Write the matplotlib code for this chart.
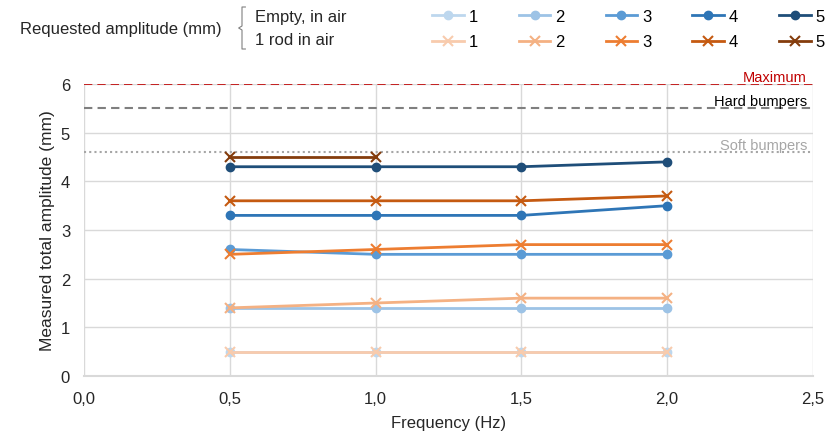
import matplotlib.pyplot as plt
from matplotlib.lines import Line2D

plt.rcParams['font.family'] = ['Liberation Sans', 'DejaVu Sans']

freq = [0.5, 1.0, 1.5, 2.0]
labels = ['1', '2', '3', '4', '5']

# Empty, in air
empty = [
    [0.5, 0.5, 0.5, 0.5],
    [1.4, 1.4, 1.4, 1.4],
    [2.6, 2.5, 2.5, 2.5],
    [3.3, 3.3, 3.3, 3.5],
    [4.3, 4.3, 4.3, 4.4],
]
# 1 rod in air
rod = [
    [0.5, 0.5, 0.5, 0.5],
    [1.4, 1.5, 1.6, 1.6],
    [2.5, 2.6, 2.7, 2.7],
    [3.6, 3.6, 3.6, 3.7],
    [4.5, 4.5],
]
blues = ['#bdd7ee', '#9dc3e6', '#5b9bd5', '#2e75b6', '#1f4e79']
oranges = ['#f8cbad', '#f4b183', '#ed7d31', '#c55a11', '#843c0c']

limits = [6.0, 5.5, 4.6]
limit_names = ['Maximum', 'Hard bumpers', 'Soft bumpers']

txt = '#262626'
fig = plt.figure(figsize=(8.38, 4.35), dpi=100)
ax = fig.add_axes([0.1002, 0.1333, 0.8698, 0.6713])

ax.axhline(limits[0], color='#c00000', ls=(0, (5, 3)), lw=1.2, zorder=2)
ax.axhline(limits[1], color='#7f7f7f', ls=(0, (4, 2.5)), lw=1.5, zorder=2)
ax.axhline(limits[2], color='#a6a6a6', ls=(0, (1, 1.5)), lw=1.5, zorder=2)
ax.text(2.48, limits[0] + 0.01, limit_names[0], color='#c00000', ha='right', va='bottom', fontsize=10.5)
ax.text(2.48, limits[1] + 0.01, limit_names[1], color='black', ha='right', va='bottom', fontsize=10.5)
ax.text(2.48, limits[2] + 0.01, limit_names[2], color='#a6a6a6', ha='right', va='bottom', fontsize=10.5)

handles = []
for i in range(5):
    hb, = ax.plot(freq[:len(empty[i])], empty[i], color=blues[i], marker='o', ms=6, lw=2, zorder=3)
    ho, = ax.plot(freq[:len(rod[i])], rod[i], color=oranges[i], marker='x', ms=7.5, mew=1.5, lw=2, zorder=3)
    handles += [hb, ho]

ax.set_xlim(0, 2.5)
ax.set_ylim(0, 6)
ax.set_xticks([0, 0.5, 1.0, 1.5, 2.0, 2.5])
ax.set_xticklabels(['0,0', '0,5', '1,0', '1,5', '2,0', '2,5'])
ax.set_yticks(range(7))
ax.grid(True, color='#d9d9d9', lw=1)
ax.set_axisbelow(True)
for s in ['top', 'right', 'left']:
    ax.spines[s].set_visible(False)
ax.spines['bottom'].set_color('#d9d9d9')
ax.spines['bottom'].set_linewidth(1.5)
ax.tick_params(length=0, labelsize=12, colors=txt)
ax.tick_params(axis='x', pad=11)
ax.tick_params(axis='y', pad=10)
ax.set_xlabel('Frequency (Hz)', fontsize=12, color=txt, labelpad=6)
ax.set_ylabel('Measured total amplitude (mm)', fontsize=12.5, color=txt, labelpad=4)

fig.legend(handles, [l for l in labels for _ in range(2)],
           ncol=5, loc='upper left', bbox_to_anchor=(0.5155, 0.978), frameon=False,
           fontsize=12, handlelength=1.9, handletextpad=0.3, columnspacing=2.45,
           labelspacing=0.65, borderpad=0, borderaxespad=0)

fig.text(0.024, 0.933, 'Requested amplitude (mm)', fontsize=12, color=txt, va='center')
fig.text(0.304, 0.959, 'Empty, in air', fontsize=12, color=txt, va='center')
fig.text(0.304, 0.908, '1 rod in air', fontsize=12, color=txt, va='center')
bx = 242 / 838
brace = Line2D([bx + 0.004, bx, bx, bx - 0.004, bx, bx, bx + 0.004],
               [1 - 8 / 435, 1 - 8 / 435, 1 - 27 / 435, 1 - 29 / 435, 1 - 31 / 435, 1 - 50 / 435, 1 - 50 / 435],
               transform=fig.transFigure, color='#808080', lw=0.8)
fig.add_artist(brace)

fig.savefig('out.png', dpi=100)
